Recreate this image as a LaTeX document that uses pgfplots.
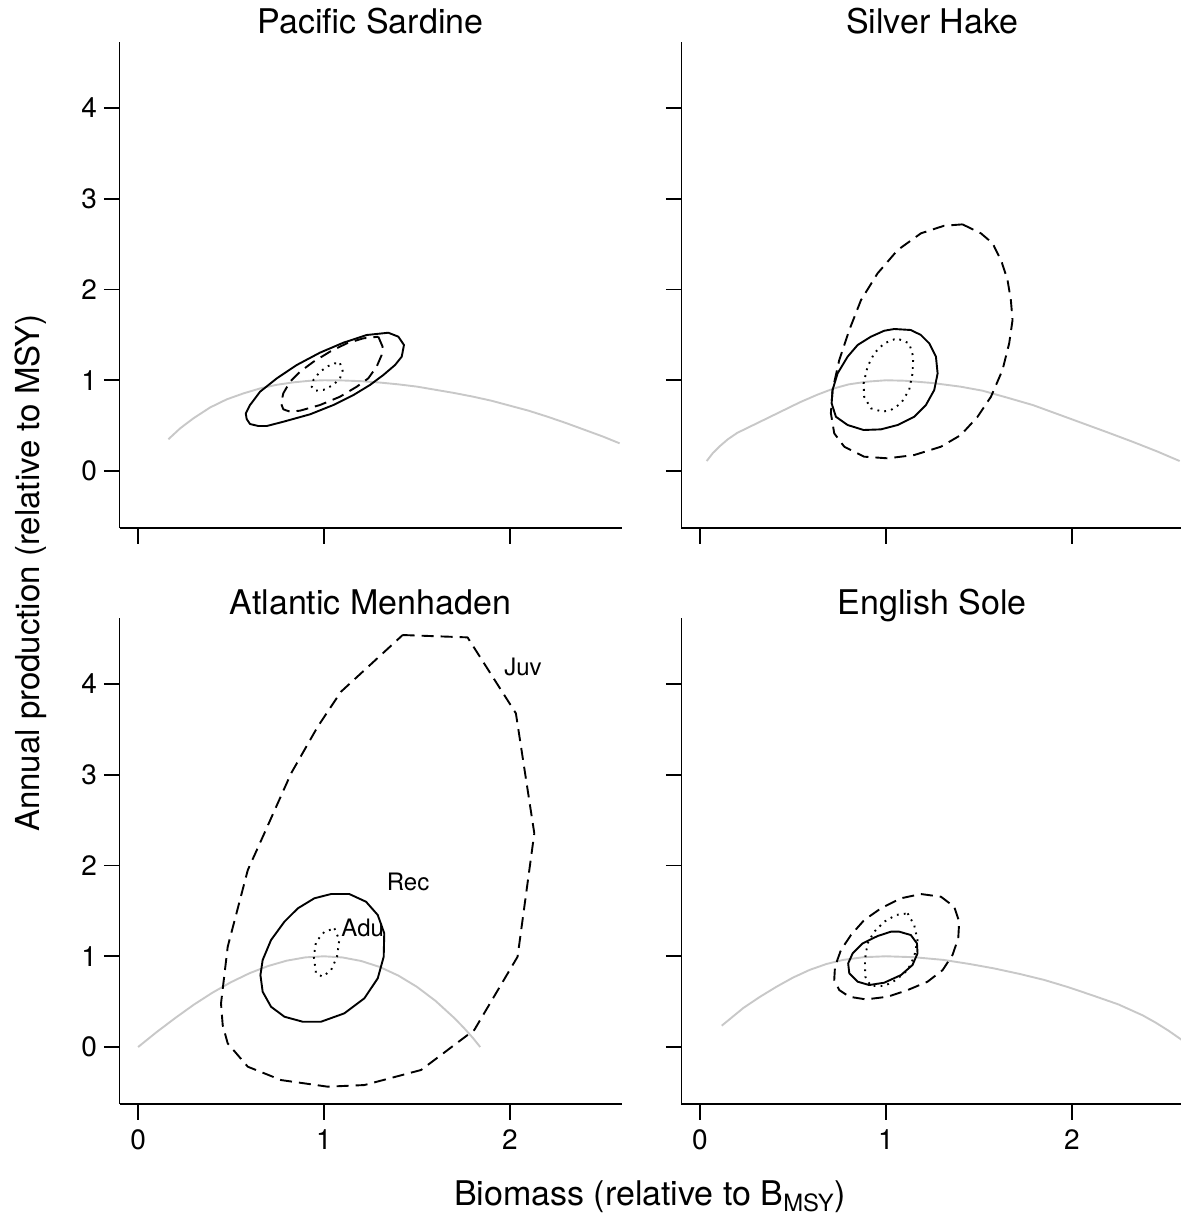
\documentclass[border=0pt]{standalone}
\usepackage{fontspec}
\setmainfont{TeX Gyre Heros}
\usepackage{pgfplots}
\pgfplotsset{compat=1.18}
\definecolor{curvegray}{RGB}{200,200,200}
\pgfplotsset{
  panel/.style={
    scale only axis, width=251pt, height=243.2pt,
    xmin=-0.1, xmax=2.6, ymin=-0.63, ymax=4.73,
    axis x line*=bottom, axis y line*=left,
    axis line style={-, line width=0.85pt, black},
    xtick={0,1,2}, ytick={0,1,2,3,4},
    tick align=outside, major tick length=7.8pt,
    every tick/.style={black, line width=0.85pt},
    tick label style={font=\fontsize{14}{16}\selectfont},
    xticklabel shift=1.5pt,
    /pgf/number format/assume math mode=true,
    title style={font=\fontsize{17}{20}\selectfont, at={(0.5,1)}, anchor=base, yshift=-2.1pt},
  },
  gcurve/.style={curvegray, line width=0.95pt, line join=round},
  sol/.style={black, line width=0.95pt, line join=round},
  dsh/.style={black, line width=0.95pt, line join=round, dash pattern=on 6pt off 3.5pt},
  dot/.style={black, line width=0.95pt, dash pattern=on 0.9pt off 2.6pt},
}
\begin{document}
\begin{tikzpicture}
\path[use as bounding box] (0,0) rectangle (590pt,610.5pt);

% ---------- Pacific Sardine ----------
\begin{axis}[panel, at={(59.75pt,346.4pt)}, anchor=south west, title={Pacific Sardine}, xticklabels={}]
\addplot[gcurve] coordinates {(0.163,0.35) (0.226,0.47) (0.297,0.58) (0.387,0.70) (0.477,0.79) (0.566,0.855) (0.656,0.91) (0.745,0.95) (0.835,0.977) (0.92,0.994) (1.0,1.0) (1.1,0.998) (1.2,0.99) (1.3,0.975) (1.4,0.955) (1.5,0.93) (1.6,0.895) (1.7,0.86) (1.8,0.82) (1.9,0.775) (2.0,0.72) (2.1,0.665) (2.2,0.6) (2.3,0.53) (2.4,0.455) (2.5,0.38) (2.59,0.305)};
\addplot[sol] coordinates {(1.346,1.524) (1.40,1.48) (1.43,1.389) (1.418,1.26) (1.382,1.168) (1.319,1.058) (1.247,0.948) (1.158,0.837) (1.05,0.727) (0.925,0.625) (0.781,0.543) (0.692,0.496) (0.647,0.496) (0.602,0.518) (0.584,0.573) (0.579,0.635) (0.602,0.727) (0.656,0.874) (0.746,1.021) (0.853,1.168) (0.978,1.304) (1.104,1.414) (1.23,1.499) (1.346,1.524)};
\addplot[dsh] coordinates {(1.292,1.48) (1.315,1.37) (1.31,1.278) (1.283,1.15) (1.238,1.021) (1.176,0.929) (1.086,0.819) (0.978,0.727) (0.871,0.665) (0.817,0.654) (0.781,0.68) (0.769,0.746) (0.781,0.856) (0.817,0.984) (0.871,1.094) (0.943,1.204) (1.032,1.315) (1.122,1.407) (1.211,1.462) (1.292,1.48)};
\addplot[dot] coordinates {(1.086,1.187) (1.10,1.105) (1.086,1.021) (1.05,0.948) (0.996,0.893) (0.952,0.885) (0.934,0.929) (0.943,1.003) (0.978,1.094) (1.023,1.157) (1.059,1.187) (1.086,1.187)};
\end{axis}

% ---------- Silver Hake ----------
\begin{axis}[panel, at={(340.7pt,346.4pt)}, anchor=south west, title={Silver Hake}, xticklabels={}, yticklabels={}]
\addplot[gcurve] coordinates {(0.036,0.11) (0.07,0.2) (0.11,0.28) (0.15,0.35) (0.2,0.42) (0.36,0.58) (0.54,0.76) (0.63,0.84) (0.72,0.91) (0.8,0.955) (0.9,0.985) (1.0,1.0) (1.1,0.995) (1.25,0.97) (1.4,0.93) (1.52,0.885) (1.65,0.81) (1.79,0.727) (1.92,0.63) (2.06,0.525) (2.2,0.42) (2.33,0.32) (2.46,0.215) (2.58,0.11)};
\addplot[dsh] coordinates {(1.412,2.718) (1.511,2.619) (1.574,2.509) (1.622,2.307) (1.654,2.105) (1.672,1.884) (1.681,1.664) (1.663,1.407) (1.627,1.113) (1.565,0.819) (1.493,0.598) (1.403,0.397) (1.296,0.268) (1.152,0.176) (1.009,0.14) (0.883,0.158) (0.776,0.268) (0.722,0.415) (0.704,0.636) (0.713,0.893) (0.749,1.223) (0.803,1.554) (0.866,1.884) (0.955,2.178) (1.063,2.435) (1.188,2.619) (1.313,2.703) (1.412,2.718)};
\addplot[sol] coordinates {(1.045,1.565) (1.134,1.554) (1.188,1.499) (1.233,1.407) (1.269,1.26) (1.278,1.076) (1.26,0.893) (1.215,0.727) (1.152,0.598) (1.063,0.507) (0.973,0.459) (0.88,0.452) (0.794,0.507) (0.731,0.598) (0.708,0.746) (0.713,0.893) (0.74,1.076) (0.794,1.26) (0.848,1.389) (0.919,1.48) (0.991,1.546) (1.045,1.565)};
\addplot[dot] coordinates {(1.072,1.451) (1.125,1.407) (1.147,1.26) (1.143,1.076) (1.125,0.893) (1.081,0.746) (1.027,0.672) (0.982,0.654) (0.919,0.691) (0.883,0.819) (0.88,0.966) (0.901,1.149) (0.937,1.297) (0.991,1.407) (1.045,1.451) (1.072,1.451)};
\end{axis}

% ---------- Atlantic Menhaden ----------
\begin{axis}[panel, at={(59.75pt,58.4pt)}, anchor=south west, title={Atlantic Menhaden}, title style={yshift=-2.2pt}]
\addplot[gcurve] coordinates {(0,0) (0.1,0.165) (0.2,0.32) (0.3,0.467) (0.4,0.599) (0.5,0.715) (0.6,0.814) (0.7,0.893) (0.8,0.952) (0.9,0.988) (1.0,1.0) (1.1,0.987) (1.2,0.948) (1.3,0.882) (1.4,0.787) (1.5,0.663) (1.6,0.508) (1.7,0.321) (1.75,0.216) (1.8,0.102) (1.84,0)};
\addplot[dsh] coordinates {(1.423,4.54) (1.772,4.514) (2.032,3.677) (2.131,2.355) (2.041,0.995) (1.808,0.187) (1.772,0.132) (1.522,-0.253) (1.217,-0.419) (1.02,-0.437) (0.769,-0.364) (0.59,-0.217) (0.482,0.04) (0.455,0.242) (0.446,0.481) (0.482,1.105) (0.59,1.95) (0.679,2.355) (0.823,3.016) (0.966,3.53) (1.091,3.915) (1.423,4.54)};
\addplot[sol] coordinates {(1.038,1.686) (1.136,1.686) (1.226,1.601) (1.289,1.455) (1.324,1.253) (1.321,0.995) (1.289,0.757) (1.217,0.537) (1.109,0.371) (0.984,0.279) (0.885,0.279) (0.787,0.334) (0.715,0.444) (0.67,0.609) (0.658,0.793) (0.67,0.959) (0.715,1.179) (0.787,1.381) (0.859,1.528) (0.948,1.639) (1.038,1.686)};
\addplot[dot] coordinates {(1.056,1.308) (1.082,1.179) (1.07,0.995) (1.038,0.848) (0.993,0.775) (0.957,0.812) (0.945,0.995) (0.957,1.16) (1.002,1.27) (1.056,1.308)};
\node[font=\fontsize{12}{14}\selectfont] at (axis cs:2.07,4.19) {Juv};
\node[font=\fontsize{12}{14}\selectfont] at (axis cs:1.452,1.82) {Rec};
\node[font=\fontsize{12}{14}\selectfont] at (axis cs:1.208,1.308) {Adu};
\end{axis}

% ---------- English Sole ----------
\begin{axis}[panel, at={(340.7pt,58.4pt)}, anchor=south west, title={English Sole}, title style={yshift=-2.2pt}, yticklabels={}]
\addplot[gcurve] coordinates {(0.117,0.235) (0.233,0.43) (0.32,0.55) (0.412,0.665) (0.5,0.765) (0.59,0.85) (0.68,0.915) (0.77,0.96) (0.88,0.99) (1.0,1.0) (1.15,0.99) (1.31,0.96) (1.45,0.915) (1.58,0.867) (1.72,0.805) (1.85,0.74) (1.98,0.66) (2.11,0.57) (2.25,0.47) (2.38,0.35) (2.45,0.27) (2.52,0.18) (2.59,0.08)};
\addplot[dsh] coordinates {(1.188,1.686) (1.296,1.656) (1.367,1.546) (1.394,1.381) (1.389,1.198) (1.358,1.014) (1.305,0.848) (1.224,0.72) (1.117,0.628) (1.009,0.554) (0.892,0.525) (0.803,0.554) (0.749,0.628) (0.722,0.738) (0.726,0.885) (0.758,1.069) (0.812,1.234) (0.883,1.399) (0.973,1.528) (1.081,1.639) (1.188,1.686)};
\addplot[sol] coordinates {(1.072,1.271) (1.134,1.234) (1.167,1.142) (1.17,1.032) (1.143,0.904) (1.081,0.793) (0.991,0.709) (0.91,0.683) (0.848,0.72) (0.803,0.812) (0.797,0.922) (0.821,1.032) (0.875,1.142) (0.955,1.223) (1.027,1.271) (1.072,1.271)};
\addplot[dot] coordinates {(1.117,1.473) (1.152,1.344) (1.17,1.179) (1.152,0.995) (1.117,0.848) (1.054,0.738) (0.991,0.672) (0.919,0.672) (0.889,0.775) (0.887,0.959) (0.901,1.142) (0.937,1.271) (0.991,1.381) (1.054,1.455) (1.117,1.473)};
\end{axis}

\node[rotate=90, font=\fontsize{16.5}{20}\selectfont] at (15.25pt,324pt) {Annual production (relative to MSY)};
\node[font=\fontsize{17}{20}\selectfont] at (325pt,12pt) {Biomass (relative to B\textsubscript{MSY})};
\end{tikzpicture}
\end{document}
